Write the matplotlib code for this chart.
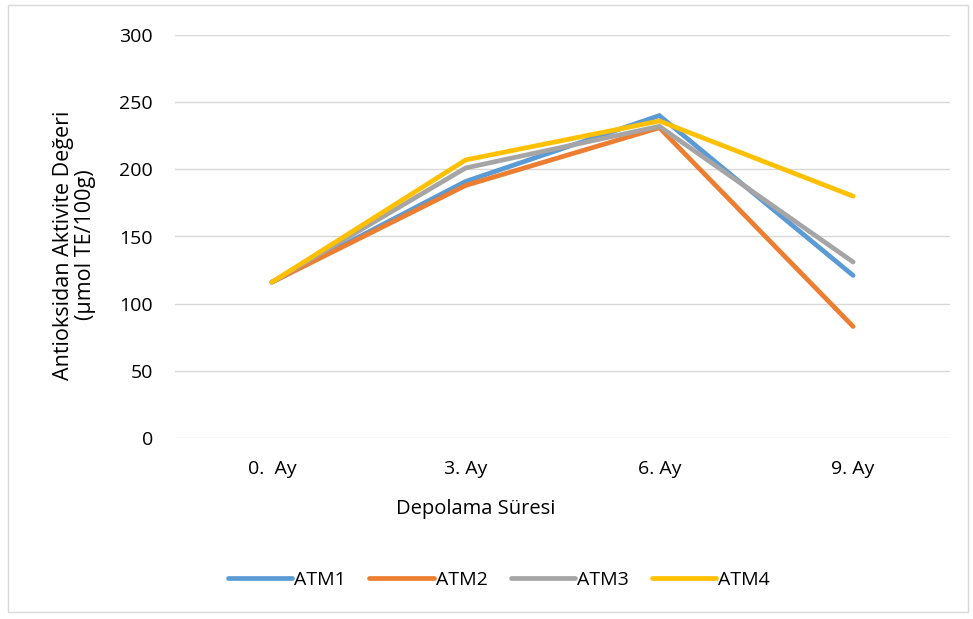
import matplotlib.pyplot as plt
from matplotlib.patches import Rectangle

plt.rcParams['font.family'] = ['Open Sans', 'DejaVu Sans']

months = ['0.  Ay', '3. Ay', '6. Ay', '9. Ay']
atm1 = [116, 191, 240, 121]
atm2 = [116, 188, 231, 83]
atm3 = [116, 201, 232, 131]
atm4 = [116, 207, 236, 180]

series = [('ATM1', atm1, '#5B9BD5'),
          ('ATM2', atm2, '#ED7D31'),
          ('ATM3', atm3, '#A5A5A5'),
          ('ATM4', atm4, '#FFC000')]

fig = plt.figure(figsize=(9.73, 6.19), dpi=100)
ax = fig.add_axes([175 / 973, 1 - 438 / 619, 775 / 973, 403 / 619])

x = range(len(months))
for name, vals, col in series:
    ax.plot(x, vals, color=col, lw=3.4, label=name,
            solid_capstyle='round', solid_joinstyle='miter')

ax.set_xlim(-0.5, 3.5)
ax.set_ylim(0, 300)
ax.set_yticks(range(0, 301, 50))
ax.set_xticks(list(x))
ax.set_xticklabels(months)
ax.grid(axis='y', color='#D9D9D9', lw=1)
ax.set_axisbelow(True)
for s in ax.spines.values():
    s.set_visible(False)
ax.tick_params(length=0, labelsize=14, colors='#000000')
ax.tick_params(axis='x', pad=16)
ax.tick_params(axis='y', pad=16)

ax.set_xlabel('Depolama Süresi', fontsize=14.5)
ax.xaxis.set_label_coords((476 - 175) / 775, -61 / 403)
ax.set_ylabel('Antioksidan Aktivite Değeri\n(µmol TE/100g)', fontsize=15.5,
              linespacing=1.05)
ax.yaxis.set_label_coords((96 - 175) / 775, (438 - 245) / 403)

fig.legend(loc='center', bbox_to_anchor=(499 / 973, 1 - 580 / 619), ncol=4,
           frameon=False, fontsize=14, handlelength=3.3, columnspacing=1.2,
           handletextpad=0.1)

fig.patches.append(Rectangle((8 / 973, 1 - 612 / 619), 960 / 973, 607 / 619,
                             transform=fig.transFigure, fill=False,
                             edgecolor='#D9D9D9', lw=1))

fig.savefig('out.png', dpi=100)
